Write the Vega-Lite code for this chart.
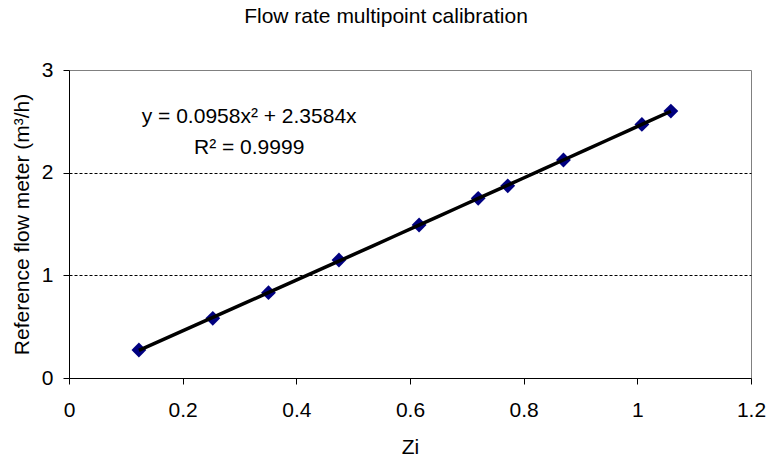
{
  "$schema": "https://vega.github.io/schema/vega-lite/v6.json",
  "width": 682,
  "height": 308,
  "autosize": {"type": "none"},
  "padding": {"left": 69, "top": 70, "right": 17, "bottom": 78},
  "background": "white",
  "config": {
    "font": "Liberation Sans",
    "view": {"stroke": "#808080", "strokeWidth": 1}
  },
  "title": {
    "text": "Flow rate multipoint calibration",
    "fontSize": 21,
    "fontWeight": "normal",
    "color": "black",
    "anchor": "middle",
    "baseline": "alphabetic",
    "offset": 15,
    "dx": -24
  },
  "datasets": {
    "points": [
      {"Zi": 0.123, "flow": 0.273},
      {"Zi": 0.253, "flow": 0.581},
      {"Zi": 0.351, "flow": 0.831},
      {"Zi": 0.475, "flow": 1.149},
      {"Zi": 0.616, "flow": 1.490},
      {"Zi": 0.720, "flow": 1.750},
      {"Zi": 0.772, "flow": 1.872},
      {"Zi": 0.870, "flow": 2.123},
      {"Zi": 1.008, "flow": 2.470},
      {"Zi": 1.059, "flow": 2.600}
    ],
    "annotation": [
      {"line1": "y = 0.0958x² + 2.3584x", "line2": "R² = 0.9999"}
    ]
  },
  "layer": [
    {
      "data": {"name": "points"},
      "mark": {"type": "point", "shape": "diamond", "filled": true, "size": 220, "color": "#000080", "opacity": 1},
      "encoding": {
        "x": {
          "field": "Zi",
          "type": "quantitative",
          "scale": {"domain": [0, 1.2], "nice": false, "zero": true},
          "axis": {
            "values": [0, 0.2, 0.4, 0.6, 0.8, 1, 1.2],
            "format": "~g",
            "grid": false,
            "domainColor": "black",
            "tickColor": "black",
            "tickSize": 6,
            "labelPadding": 15,
            "labelFontSize": 21,
            "labelColor": "black",
            "labelFlush": false,
            "title": "Zi",
            "titleFontSize": 21,
            "titleFontWeight": "normal",
            "titleColor": "black",
            "titleBaseline": "alphabetic",
            "titleY": 75
          }
        },
        "y": {
          "field": "flow",
          "type": "quantitative",
          "scale": {"domain": [0, 3], "nice": false},
          "axis": {
            "values": [0, 1, 2, 3],
            "format": "d",
            "grid": true,
            "gridColor": "black",
            "gridDash": [3, 2],
            "gridWidth": 1,
            "gridOpacity": {"condition": {"test": "datum.value == 0 || datum.value == 3", "value": 0}, "value": 1},
            "domainColor": "black",
            "tickColor": "black",
            "tickSize": 6,
            "labelPadding": 10,
            "labelFontSize": 21,
            "labelColor": "black",
            "labelFlush": false,
            "title": "Reference flow meter (m³/h)",
            "titleFontSize": 21,
            "titleFontWeight": "normal",
            "titleColor": "black",
            "titleBaseline": "alphabetic",
            "titleX": -41,
            "titleY": 154
          }
        }
      }
    },
    {
      "data": {"name": "points"},
      "transform": [{"regression": "flow", "on": "Zi", "method": "poly", "order": 2}],
      "mark": {"type": "line", "color": "black", "strokeWidth": 3.5},
      "encoding": {
        "x": {"field": "Zi", "type": "quantitative"},
        "y": {"field": "flow", "type": "quantitative"}
      }
    },
    {
      "data": {"name": "annotation"},
      "mark": {"type": "text", "fontSize": 21, "color": "black", "align": "center", "baseline": "alphabetic"},
      "encoding": {
        "x": {"datum": 0.317},
        "y": {"datum": 2.484},
        "text": {"field": "line1"}
      }
    },
    {
      "data": {"name": "annotation"},
      "mark": {"type": "text", "fontSize": 21, "color": "black", "align": "center", "baseline": "alphabetic"},
      "encoding": {
        "x": {"datum": 0.317},
        "y": {"datum": 2.182},
        "text": {"field": "line2"}
      }
    }
  ]
}
